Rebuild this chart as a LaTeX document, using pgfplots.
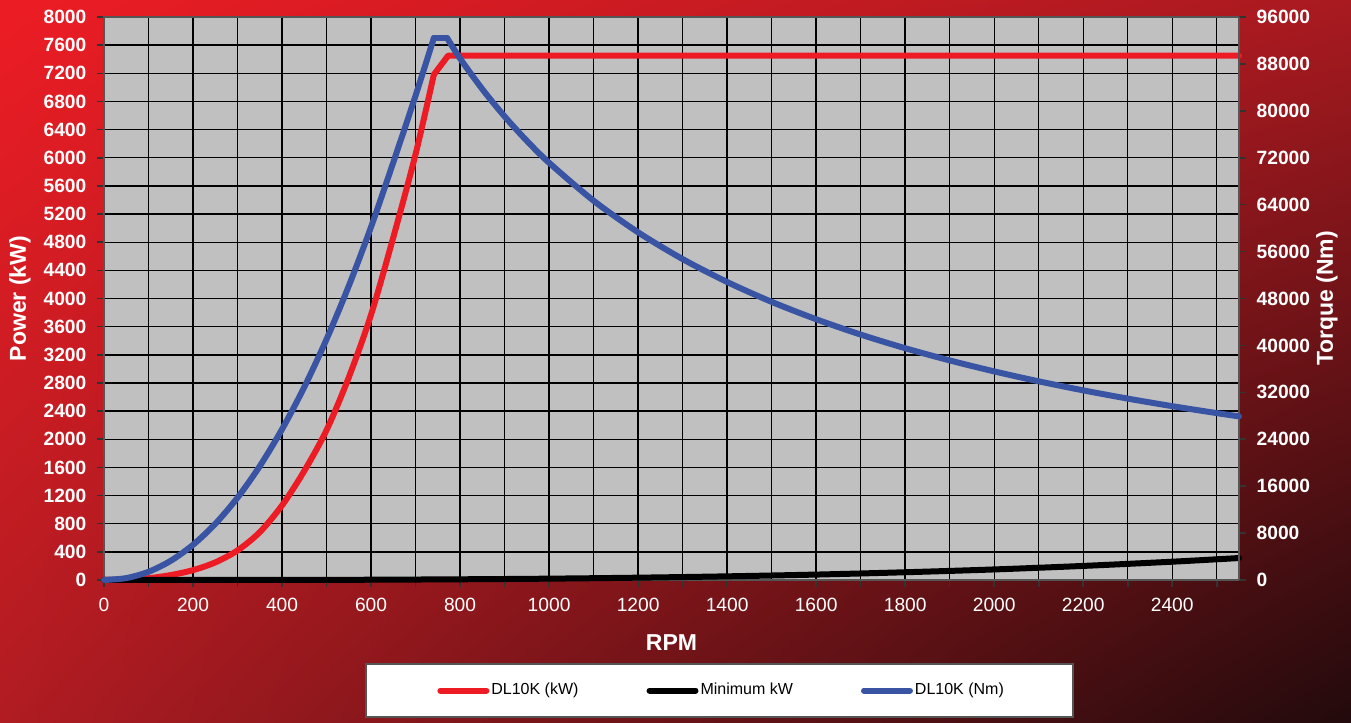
\documentclass[border=0pt]{standalone}
\usepackage{fontspec}
\setmainfont{Liberation Sans}
\usepackage{pgfplots}
\usetikzlibrary{shadings}
\pgfplotsset{compat=1.18}
\definecolor{bgUL}{HTML}{ED1C24}
\definecolor{bgUR}{HTML}{A81A20}
\definecolor{bgLL}{HTML}{B01C22}
\definecolor{bgLR}{HTML}{220A0C}
\definecolor{pgray}{HTML}{C0C0C0}
\definecolor{pred}{HTML}{ED1C24}
\definecolor{pblue}{HTML}{3A54A4}
\definecolor{framec}{HTML}{555555}
\begin{document}
\begin{tikzpicture}
\shade[upper left=bgUL, upper right=bgUR, lower left=bgLL, lower right=bgLR] (0,0) rectangle (675.5pt,361.5pt);
\draw[fill=white, draw=framec, line width=0.6pt] (183pt,3pt) rectangle (536.5pt,29.5pt);
\pgfplotsset{common/.style={at={(52pt,71.5pt)}, anchor=south west, scale only axis,
  width=567.5pt, height=281.5pt, xmin=0, xmax=2550, clip=false,
  tick align=outside, major tick length=3.5pt, minor tick length=3.5pt,
  tick style={draw=black!80, line width=0.8pt},
  axis line style={draw=framec, line width=1.2pt},
  /pgf/number format/assume math mode=true, /pgf/number format/1000 sep={},
  scaled ticks=false,
  ticklabel style={text=white, font=\fontsize{9.6}{11}\selectfont}},
  curve/.style={line width=3pt, line join=round, line cap=round}}
\begin{axis}[common, ymin=0, ymax=8000, ytick distance=400,
  xtick distance=200, minor x tick num=1,
  grid=both, major grid style={black, line width=0.7pt}, minor grid style={black, line width=0.7pt},
  tick pos=left, axis background/.style={fill=pgray},
  yticklabel style={font=\bfseries\fontsize{9.6}{11}\selectfont, xshift=-1.8pt},
  xticklabel style={yshift=-2pt},
  xlabel={RPM}, ylabel={Power (kW)},
  label style={text=white, font=\bfseries\fontsize{11.5}{13}\selectfont},
  xlabel style={at={(axis description cs:0.5,-0.112)}, anchor=center},
  ylabel style={at={(axis description cs:-0.074,0.5)}, anchor=center},
  legend columns=-1,
  legend style={at={(axis description cs:0.2934,-0.1963)}, anchor=west, draw=none, fill=none,
    inner sep=0pt, font=\fontsize{8}{9.6}\selectfont, text=black,
    nodes={inner sep=1pt},
    /tikz/every even column/.append style={column sep=33pt}},
  legend image code/.code={\draw[#1, line cap=round] (1.5pt,0pt) -- (24.5pt,0pt);}]
\addplot[pred, curve, smooth] coordinates {
(0,0) (50,4) (100,25) (150,70) (200,140) (250,250) (300,420) (350,680) (400,1060)
(450,1550) (500,2130) (550,2880) (600,3770) (650,4870) (700,6050) (741,7180)};
\addlegendentry{DL10K (kW)}
\addplot[black, curve, smooth] coordinates {
(0,0) (500,2) (800,10) (1000,19) (1200,33) (1400,52) (1600,77) (1800,110) (2000,150)
(2200,200) (2400,260) (2550,312)};
\addlegendentry{Minimum kW}
\addlegendimage{pblue, line width=3pt}
\addlegendentry{DL10K (Nm)}
\addplot[pred, curve, forget plot] coordinates {(741,7180) (773,7450) (2550,7450)};
\end{axis}
\begin{axis}[common, ymin=0, ymax=96000, ytick distance=8000,
  axis y line*=right, axis x line=none,
  yticklabel style={font=\bfseries\fontsize{9.6}{11}\selectfont, xshift=1.8pt},
  ylabel={Torque (Nm)},
  ylabel style={at={(axis description cs:1.0775,0.5)}, anchor=center, text=white, font=\bfseries\fontsize{11.5}{13}\selectfont}]
\addplot[pblue, curve, smooth] coordinates {
(0,0) (50,326) (100,1398) (150,3277) (200,5997) (250,9572) (300,14045) (350,19410)
(400,25700) (450,32900) (500,41050) (550,50150) (600,60200) (650,71220) (700,82600)
(741,92400)};
\addplot[pblue, curve] coordinates {(741,92400) (771,92400)};
\addplot[pblue, curve, smooth] coordinates {
(771,92400) (800,88925) (850,83694) (900,79045) (950,74884) (1000,71140)
(1100,64673) (1200,59283) (1300,54723) (1400,50814) (1500,47427) (1600,44463)
(1700,41847) (1800,39522) (1900,37442) (2000,35570) (2100,33876) (2200,32336)
(2300,30930) (2400,29642) (2500,28456) (2550,27898)};
\end{axis}
\pgfresetboundingbox
\useasboundingbox (0,0) rectangle (675.5pt,361.5pt);
\end{tikzpicture}
\end{document}
